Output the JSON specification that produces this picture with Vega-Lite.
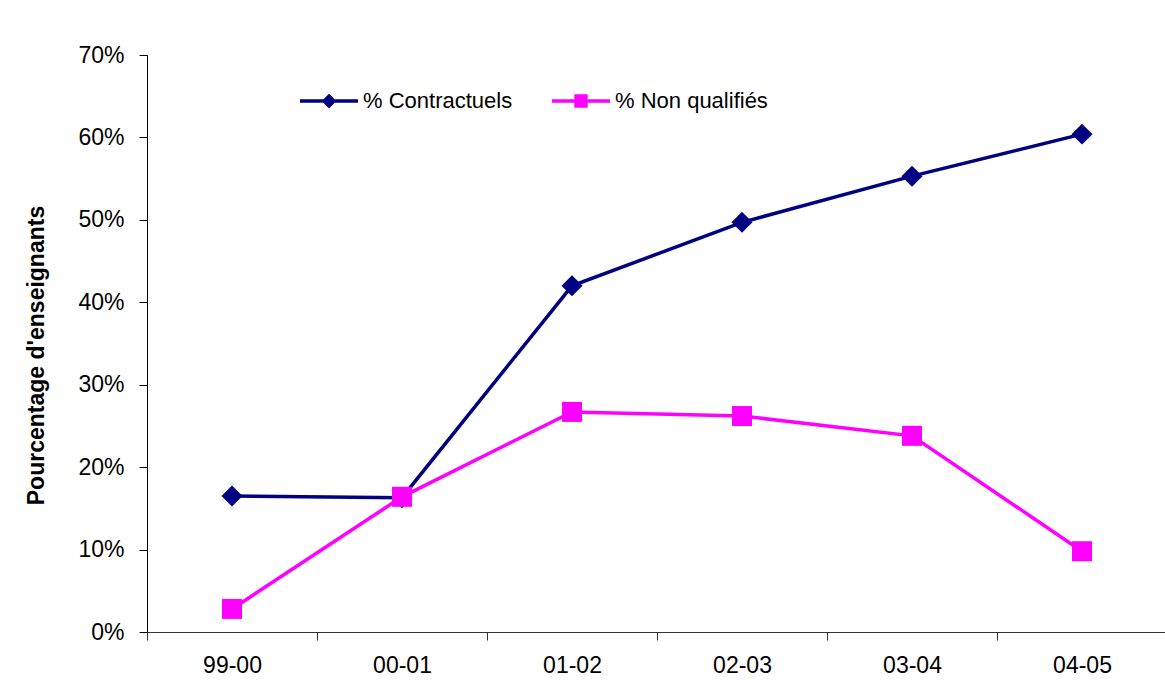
{
  "$schema": "https://vega.github.io/schema/vega-lite/v6.json",
  "width": 1020,
  "height": 577,
  "autosize": "none",
  "padding": {"left": 147, "top": 55, "right": 0, "bottom": 63},
  "background": "white",
  "config": {"view": {"stroke": null}, "font": "Liberation Sans"},
  "data": {
    "values": [
      {"annee": "99-00", "serie": "% Contractuels", "pct": 0.165},
      {"annee": "00-01", "serie": "% Contractuels", "pct": 0.163},
      {"annee": "01-02", "serie": "% Contractuels", "pct": 0.420},
      {"annee": "02-03", "serie": "% Contractuels", "pct": 0.497},
      {"annee": "03-04", "serie": "% Contractuels", "pct": 0.553},
      {"annee": "04-05", "serie": "% Contractuels", "pct": 0.604},
      {"annee": "99-00", "serie": "% Non qualifiés", "pct": 0.028},
      {"annee": "00-01", "serie": "% Non qualifiés", "pct": 0.164},
      {"annee": "01-02", "serie": "% Non qualifiés", "pct": 0.267},
      {"annee": "02-03", "serie": "% Non qualifiés", "pct": 0.262},
      {"annee": "03-04", "serie": "% Non qualifiés", "pct": 0.238},
      {"annee": "04-05", "serie": "% Non qualifiés", "pct": 0.098}
    ]
  },
  "encoding": {
    "x": {
      "field": "annee",
      "type": "ordinal",
      "sort": ["99-00", "00-01", "01-02", "02-03", "03-04", "04-05"],
      "scale": {"type": "band", "paddingInner": 0, "paddingOuter": 0},
      "axis": {
        "title": null,
        "labelAngle": 0,
        "tickBand": "extent",
        "tickSize": 8,
        "labelPadding": 14,
        "labelFontSize": 23,
        "labelColor": "black",
        "domainColor": "#333333",
        "tickColor": "#333333",
        "grid": false
      }
    },
    "y": {
      "field": "pct",
      "type": "quantitative",
      "scale": {"domain": [0, 0.7], "nice": false},
      "axis": {
        "values": [0, 0.1, 0.2, 0.3, 0.4, 0.5, 0.6, 0.7],
        "format": ".0%",
        "grid": false,
        "tickSize": 8,
        "labelPadding": 15,
        "labelFontSize": 23,
        "labelColor": "black",
        "domainColor": "black",
        "tickColor": "black",
        "title": "Pourcentage d'enseignants",
        "titleFontSize": 23,
        "titleFontWeight": "bold",
        "titleColor": "black",
        "titleAngle": 270,
        "titleBaseline": "alphabetic",
        "titleX": -104,
        "titleY": 300
      }
    },
    "color": {
      "field": "serie",
      "type": "nominal",
      "scale": {"domain": ["% Contractuels", "% Non qualifiés"], "range": ["#000080", "#FF00FF"]},
      "legend": {
        "title": null,
        "orient": "none",
        "direction": "horizontal",
        "legendX": 151,
        "legendY": 15,
        "padding": 0,
        "columnPadding": 32,
        "labelFontSize": 22,
        "labelColor": "black",
        "labelOffset": 3,
        "symbolSize": 3364,
        "symbolStrokeWidth": 3.5,
        "encode": {
          "symbols": {
            "update": {
              "shape": {"signal": "datum.value === '% Contractuels' ? 'M-1,0H1M0,-0.17L0.17,0L0,0.17L-0.17,0Z' : 'M-1,0H1M-0.17,-0.17H0.17V0.17H-0.17Z'"},
              "fill": {"scale": "color", "field": "value"},
              "stroke": {"scale": "color", "field": "value"},
              "strokeWidth": {"value": 3.5},
              "size": {"value": 3364},
              "opacity": {"value": 1}
            }
          }
        }
      }
    }
  },
  "layer": [
    {"mark": {"type": "line", "strokeWidth": 3.5}},
    {
      "transform": [{"filter": "datum.serie === '% Contractuels'"}],
      "mark": {"type": "point", "shape": "diamond", "filled": true, "opacity": 1, "strokeWidth": 0, "size": 440}
    },
    {
      "transform": [{"filter": "datum.serie === '% Non qualifiés'"}],
      "mark": {"type": "point", "shape": "square", "filled": true, "opacity": 1, "strokeWidth": 0, "size": 400}
    }
  ]
}
